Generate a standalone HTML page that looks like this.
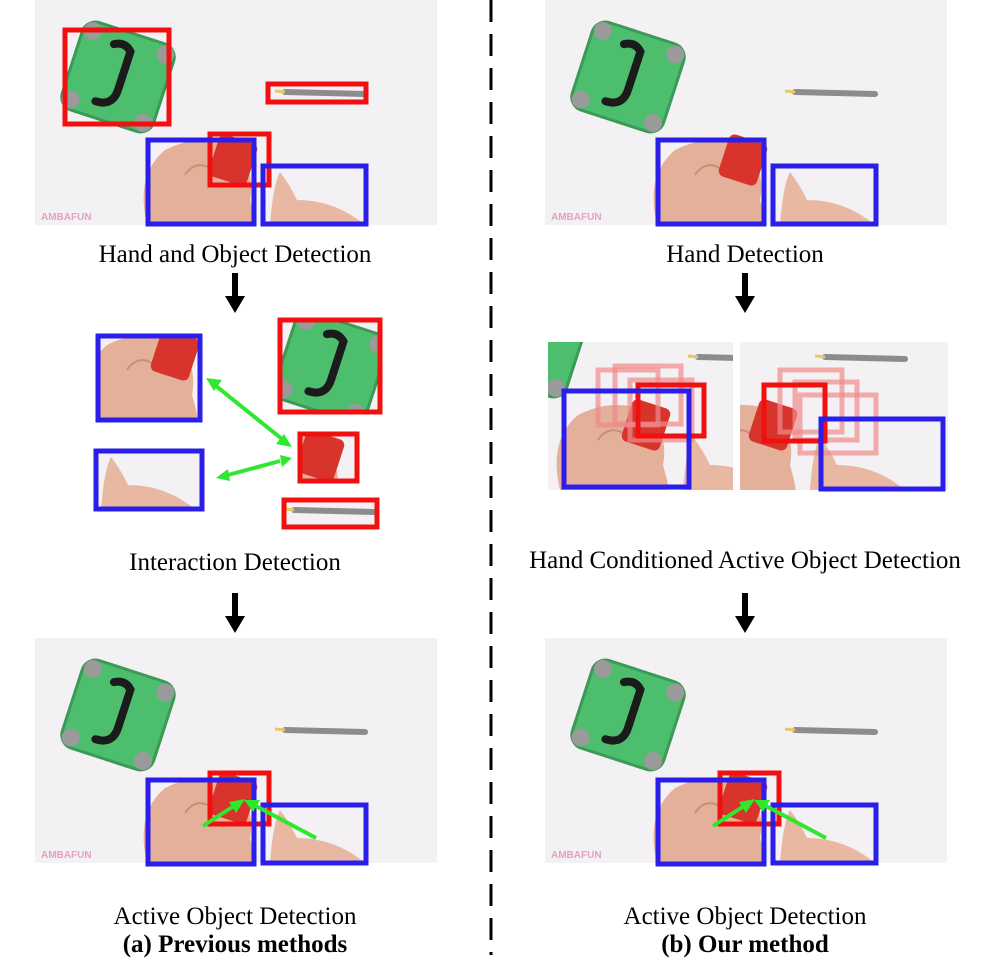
<!DOCTYPE html>
<html><head><meta charset="utf-8"><style>
html,body{margin:0;padding:0;background:#fff;}
svg{display:block;font-family:"Liberation Serif",serif;}
</style></head><body>
<svg width="984" height="970" viewBox="0 0 984 970">
<defs>
  <g id="suitcase">
    <g transform="rotate(18 0 0)">
      <rect x="-48" y="-46" width="96" height="92" rx="14" fill="#4dbd6e"/>
      <rect x="-48" y="-46" width="96" height="92" rx="14" fill="none" stroke="#3a9a56" stroke-width="3"/>
      <circle cx="-38" cy="-36" r="9" fill="#9a9a9a"/><circle cx="38" cy="-36" r="9" fill="#9a9a9a"/>
      <circle cx="-38" cy="36" r="9" fill="#9a9a9a"/><circle cx="38" cy="36" r="9" fill="#9a9a9a"/>
      <path d="M-14,-30 Q-4,-36 4,-28 L4,12 Q4,30 -14,30" fill="none" stroke="#1b1b1b" stroke-width="8" stroke-linecap="round"/>
    </g>
  </g>
  <g id="pencil">
    <line x1="0" y1="0" x2="80" y2="2" stroke="#8c8c8c" stroke-width="6" stroke-linecap="round"/>
    <line x1="-10" y1="-1" x2="0" y2="0" stroke="#e8c860" stroke-width="3"/>
  </g>
  <g id="hands">
    <path d="M112,225 Q100,175 130,150 Q170,130 205,150 Q220,175 215,200 Q222,225 220,225 Z" fill="#e5b09a"/>
    <path d="M150,175 Q160,160 175,168" stroke="#c98f78" stroke-width="2" fill="none"/>
    <path d="M235,225 Q238,185 245,172 Q255,185 262,200 Q300,200 330,225 Z" fill="#e9b8a2"/>
    <rect x="178" y="138" width="40" height="44" rx="6" transform="rotate(18 198 160)" fill="#d8342c"/>
  </g>
  <g id="scene">
    <rect x="0" y="0" width="402" height="225" fill="#f3f1f3"/>
    <use href="#suitcase" x="83" y="77"/>
    <use href="#pencil" x="250" y="92"/>
    <use href="#hands"/>
    <text x="6" y="220" font-family="Liberation Sans,sans-serif" font-size="10" font-weight="bold" fill="#e8a0c0">AMBAFUN</text>
  </g>
</defs>

<line x1="491" y1="0" x2="491" y2="955" stroke="#000" stroke-width="3" stroke-dasharray="22,12"/>

<!-- LEFT TOP -->
<g>
  <use href="#scene" x="35" y="0"/>
  <g fill="none" stroke-width="5">
    <rect x="65" y="30" width="104" height="94" stroke="#f01010"/>
    <rect x="268" y="84" width="98" height="18" stroke="#f01010"/>
    <rect x="210" y="134" width="59" height="51" stroke="#f01010"/>
    <rect x="148" y="140" width="106" height="84" stroke="#2a1ee8"/>
    <rect x="263" y="166" width="103" height="58" stroke="#2a1ee8"/>
  </g>
</g>
<text x="235" y="262" text-anchor="middle" font-size="25">Hand and Object Detection</text>
<g><rect x="232" y="273" width="6" height="26" fill="#000"/><polygon points="225,296 245,296 235,313" fill="#000"/></g>

<!-- LEFT MIDDLE -->
<g>
  <svg x="97" y="335" width="104" height="86" viewBox="120 140 104 86"><use href="#scene"/></svg>
  <rect x="98" y="336" width="102" height="84" fill="none" stroke="#2a1ee8" stroke-width="5"/>
  <svg x="278" y="318" width="104" height="96" viewBox="30 28 104 96"><use href="#scene"/></svg>
  <rect x="280" y="320" width="100" height="92" fill="none" stroke="#f01010" stroke-width="5"/>
  <svg x="298" y="432" width="60" height="50" viewBox="176 136 60 50"><use href="#scene"/></svg>
  <rect x="300" y="434" width="57" height="47" fill="none" stroke="#f01010" stroke-width="5"/>
  <svg x="94" y="449" width="109" height="61" viewBox="228 164 109 61"><use href="#scene"/></svg>
  <rect x="96" y="451" width="106" height="58" fill="none" stroke="#2a1ee8" stroke-width="5"/>
  <svg x="282" y="498" width="96" height="30" viewBox="238 80 96 30"><use href="#scene"/></svg>
  <rect x="284" y="500" width="93" height="27" fill="none" stroke="#f01010" stroke-width="5"/>
  <g stroke="#2ee82e" stroke-width="4" fill="#2ee82e">
    <line x1="216" y1="386" x2="282" y2="439"/>
    <polygon points="206,378 222,380 214,391" stroke="none"/>
    <polygon points="292,447 276,444 284,434" stroke="none"/>
    <line x1="228" y1="475" x2="280" y2="461"/>
    <polygon points="216,478 228,469 230,481" stroke="none"/>
    <polygon points="292,458 280,455 282,467" stroke="none"/>
  </g>
</g>
<text x="235" y="570" text-anchor="middle" font-size="25">Interaction Detection</text>
<g><rect x="232" y="593" width="6" height="26" fill="#000"/><polygon points="225,616 245,616 235,633" fill="#000"/></g>

<!-- LEFT BOTTOM -->
<g>
  <use href="#scene" x="35" y="638"/>
  <g fill="none" stroke-width="5">
    <rect x="210" y="773" width="59" height="51" stroke="#f01010"/>
    <rect x="148" y="780" width="106" height="84" stroke="#2a1ee8"/>
    <rect x="263" y="805" width="103" height="58" stroke="#2a1ee8"/>
  </g>
  <g stroke="#2ee82e" stroke-width="4" fill="#2ee82e">
    <line x1="203" y1="826" x2="234" y2="806"/><polygon points="245,799 236,813 229,802" stroke="none"/>
    <line x1="316" y1="838" x2="256" y2="806"/><polygon points="244,800 260,800 253,812" stroke="none"/>
  </g>
</g>
<text x="235" y="924" text-anchor="middle" font-size="25">Active Object Detection</text>
<text x="235" y="952" text-anchor="middle" font-size="25" font-weight="bold">(a) Previous methods</text>

<!-- RIGHT TOP -->
<g>
  <use href="#scene" x="545" y="0"/>
  <g fill="none" stroke-width="5">
    <rect x="658" y="140" width="106" height="84" stroke="#2a1ee8"/>
    <rect x="773" y="166" width="103" height="58" stroke="#2a1ee8"/>
  </g>
</g>
<text x="745" y="262" text-anchor="middle" font-size="25">Hand Detection</text>
<g><rect x="742" y="273" width="6" height="26" fill="#000"/><polygon points="735,296 755,296 745,313" fill="#000"/></g>

<!-- RIGHT MIDDLE -->
<g>
  <svg x="548" y="342" width="185" height="148" viewBox="100 77 185 148"><use href="#scene"/></svg>
  <g fill="none" stroke-width="5">
    <rect x="598" y="370" width="60" height="55" stroke="#f08a8a" opacity="0.7"/>
    <rect x="615" y="366" width="66" height="58" stroke="#f08a8a" opacity="0.7"/>
    <rect x="630" y="380" width="62" height="60" stroke="#f08a8a" opacity="0.7"/>
    <rect x="638" y="385" width="66" height="51" stroke="#f01010"/>
    <rect x="564" y="391" width="125" height="96" stroke="#2a1ee8"/>
  </g>
  <svg x="740" y="342" width="208" height="148" viewBox="165 77 208 148"><use href="#scene"/></svg>
  <g fill="none" stroke-width="5">
    <rect x="780" y="370" width="62" height="62" stroke="#f08a8a" opacity="0.7"/>
    <rect x="795" y="382" width="62" height="58" stroke="#f08a8a" opacity="0.7"/>
    <rect x="800" y="395" width="76" height="58" stroke="#f08a8a" opacity="0.7"/>
    <rect x="764" y="385" width="61" height="56" stroke="#f01010"/>
    <rect x="821" y="419" width="122" height="70" stroke="#2a1ee8"/>
  </g>
</g>
<text x="745" y="568" text-anchor="middle" font-size="25">Hand Conditioned Active Object Detection</text>
<g><rect x="742" y="593" width="6" height="26" fill="#000"/><polygon points="735,616 755,616 745,633" fill="#000"/></g>

<!-- RIGHT BOTTOM -->
<g>
  <use href="#scene" x="545" y="638"/>
  <g fill="none" stroke-width="5">
    <rect x="720" y="773" width="59" height="51" stroke="#f01010"/>
    <rect x="658" y="780" width="106" height="84" stroke="#2a1ee8"/>
    <rect x="773" y="805" width="103" height="58" stroke="#2a1ee8"/>
  </g>
  <g stroke="#2ee82e" stroke-width="4" fill="#2ee82e">
    <line x1="713" y1="826" x2="744" y2="806"/><polygon points="755,799 746,813 739,802" stroke="none"/>
    <line x1="826" y1="838" x2="766" y2="806"/><polygon points="754,800 770,800 763,812" stroke="none"/>
  </g>
</g>
<text x="745" y="924" text-anchor="middle" font-size="25">Active Object Detection</text>
<text x="745" y="952" text-anchor="middle" font-size="25" font-weight="bold">(b) Our method</text>
</svg>
</body></html>
